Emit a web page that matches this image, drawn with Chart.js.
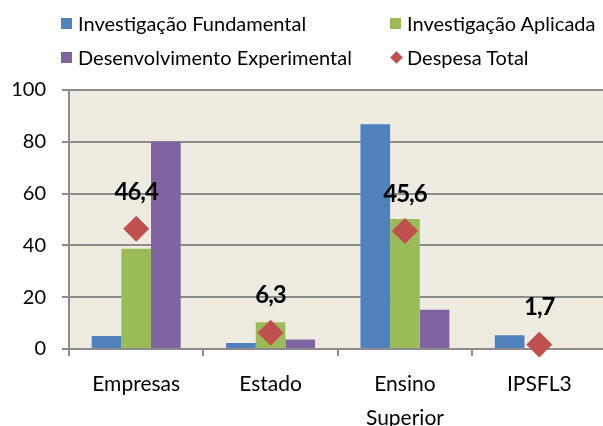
<!DOCTYPE html>
<html>
<head>
<meta charset="utf-8">
<script src="https://cdn.jsdelivr.net/npm/chart.js@4"></script>
<style>
html,body{margin:0;padding:0;overflow:hidden;background:#fff;width:603px;height:426px;}
#wrap{position:absolute;left:0;top:0;width:620px;height:440px;}
#legend{position:absolute;left:0;top:0;width:603px;height:80px;font-family:Lato,"Liberation Sans",sans-serif;font-size:20px;line-height:24px;color:#000;}
.li{position:absolute;display:flex;align-items:center;white-space:nowrap;height:24px;}
.box{width:11px;height:11px;margin-right:6px;flex:none;}
.dia{width:9px;height:9px;margin:0 6px 0 2px;transform:rotate(45deg);background:#C0504D;flex:none;}
</style>
</head>
<body>
<div id="wrap"><canvas id="c"></canvas></div>
<div id="legend"></div>
<script>
const categories = [["Empresas"], ["Estado"], ["Ensino", "Superior"], ["IPSFL3"]];
const seriesNames = ["Investigação Fundamental", "Investigação Aplicada", "Desenvolvimento Experimental", "Despesa Total"];
const fundamental = [5.0, 2.3, 86.8, 5.3];
const aplicada = [38.7, 10.3, 50.2, 0.0];
const experimental = [80.0, 3.7, 15.2, 0.4];
const despesaTotal = [46.4, 6.3, 45.6, 1.7];
const yTicks = [0, 20, 40, 60, 80, 100];

const colors = ["#4F81BD", "#9BBB59", "#8064A2", "#C0504D"];

// HTML legend (2x2 grid like the original)
const legendPos = [[61, 11], [390, 11], [61, 45], [390, 45]];
const legend = document.getElementById('legend');
seriesNames.forEach((n, i) => {
  const d = document.createElement('div');
  d.className = 'li';
  d.style.left = legendPos[i][0] + 'px';
  d.style.top = legendPos[i][1] + 'px';
  const m = document.createElement('span');
  if (i === 3) { m.className = 'dia'; }
  else { m.className = 'box'; m.style.background = colors[i]; }
  d.appendChild(m);
  const t = document.createElement('span');
  t.textContent = n;
  d.appendChild(t);
  legend.appendChild(d);
});

const FONT = 'Lato, "Liberation Sans", sans-serif';

const bgPlugin = {
  id: 'bg',
  beforeDraw(chart) {
    const {ctx, chartArea: a} = chart;
    ctx.save();
    ctx.fillStyle = '#EEECE1';
    ctx.fillRect(a.left, a.top, a.right - a.left, a.bottom - a.top);
    ctx.restore();
  }
};

const labelPlugin = {
  id: 'vals',
  afterDatasetsDraw(chart) {
    const meta = chart.getDatasetMeta(3);
    const ctx = chart.ctx;
    ctx.save();
    ctx.font = 'bold 24px ' + FONT;
    try { ctx.letterSpacing = '-1px'; } catch (e) {}
    ctx.fillStyle = '#000';
    ctx.textAlign = 'center';
    ctx.textBaseline = 'middle';
    meta.data.forEach((p, i) => {
      ctx.fillText(despesaTotal[i].toFixed(1).replace('.', ','), p.x, p.y - 37);
    });
    ctx.restore();
  }
};

new Chart(document.getElementById('c'), {
  data: {
    labels: categories,
    datasets: [
      {type: 'bar', label: seriesNames[0], data: fundamental, backgroundColor: colors[0], order: 2},
      {type: 'bar', label: seriesNames[1], data: aplicada, backgroundColor: colors[1], order: 2},
      {type: 'bar', label: seriesNames[2], data: experimental, backgroundColor: colors[2], order: 2},
      {type: 'line', label: seriesNames[3], data: despesaTotal, showLine: false,
       pointStyle: 'rectRot', pointRadius: 12.5, pointHoverRadius: 12.5,
       pointBackgroundColor: colors[3], pointBorderColor: colors[3], pointBorderWidth: 1,
       backgroundColor: colors[3], borderColor: colors[3], order: -1, clip: false}
    ]
  },
  options: {
    responsive: true,
    maintainAspectRatio: false,
    animation: false,
    events: [],
    layout: {padding: {top: 90, right: 7, left: 0, bottom: 0}},
    datasets: {bar: {barPercentage: 1.0, categoryPercentage: 0.662}},
    plugins: {legend: {display: false}, tooltip: {enabled: false}},
    scales: {
      x: {
        offset: true,
        grid: {display: true, drawOnChartArea: false, drawTicks: true, tickLength: 7, color: '#8C8C8C', lineWidth: 2, offset: true},
        border: {display: true, color: '#8C8C8C', width: 2},
        ticks: {font: {family: FONT, size: 21, lineHeight: 1.62}, color: '#000', padding: 11, maxRotation: 0, autoSkip: false},
        afterFit(s) { s.height = 440 - 349; }
      },
      y: {
        min: 0, max: 100,
        afterBuildTicks(s) { s.ticks = yTicks.map(v => ({value: v})); },
        grid: {color: '#8C8C8C', lineWidth: 2, drawTicks: true, tickLength: 7},
        border: {display: true, color: '#8C8C8C', width: 2},
        ticks: {font: {family: FONT, size: 20}, color: '#000', padding: 16},
        afterFit(s) { s.width = 69; }
      }
    }
  },
  plugins: [bgPlugin, labelPlugin]
});
</script>
</body>
</html>
